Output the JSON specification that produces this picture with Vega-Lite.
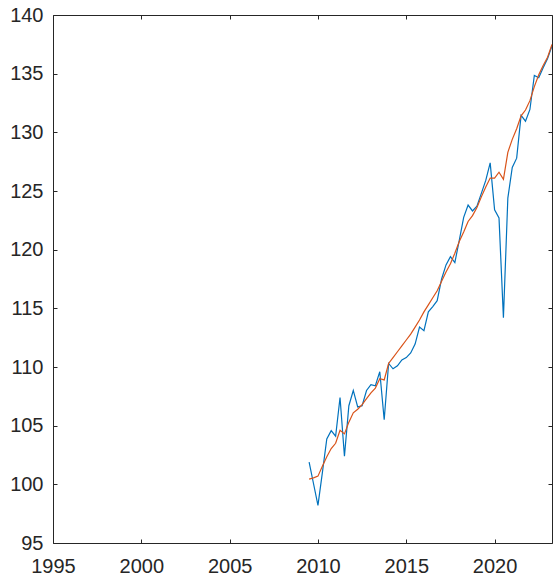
{
  "$schema": "https://vega.github.io/schema/vega-lite/v6.json",
  "width": 499,
  "height": 528,
  "autosize": {"type": "none"},
  "padding": {"left": 53, "top": 15, "right": 1, "bottom": 40},
  "background": "white",
  "config": {
    "view": {"stroke": null},
    "axis": {
      "grid": false,
      "domainColor": "#262626",
      "domainWidth": 1,
      "tickColor": "#262626",
      "tickWidth": 1,
      "tickSize": -4,
      "labelColor": "#262626",
      "labelFont": "Liberation Sans",
      "labelFontSize": 20,
      "labelFlush": false,
      "labelOverlap": false,
      "title": null
    }
  },
  "data": {
    "values": [
      {"t": 2009.5, "a": 101.9, "b": 100.45},
      {"t": 2009.75, "a": 100.05, "b": 100.55},
      {"t": 2010.0, "a": 98.2, "b": 100.7},
      {"t": 2010.25, "a": 101.0, "b": 101.55},
      {"t": 2010.5, "a": 103.86, "b": 102.35},
      {"t": 2010.75, "a": 104.57, "b": 103.05},
      {"t": 2011.0, "a": 104.1, "b": 103.5},
      {"t": 2011.25, "a": 107.4, "b": 104.6},
      {"t": 2011.5, "a": 102.4, "b": 104.3},
      {"t": 2011.75, "a": 106.7, "b": 105.3},
      {"t": 2012.0, "a": 108.0, "b": 106.1},
      {"t": 2012.25, "a": 106.6, "b": 106.4},
      {"t": 2012.5, "a": 106.7, "b": 106.8},
      {"t": 2012.75, "a": 108.0, "b": 107.3},
      {"t": 2013.0, "a": 108.5, "b": 107.8},
      {"t": 2013.25, "a": 108.4, "b": 108.2},
      {"t": 2013.5, "a": 109.6, "b": 109.0},
      {"t": 2013.75, "a": 105.5, "b": 108.9},
      {"t": 2014.0, "a": 110.3, "b": 110.3},
      {"t": 2014.25, "a": 109.85, "b": 110.8},
      {"t": 2014.5, "a": 110.1, "b": 111.3},
      {"t": 2014.75, "a": 110.6, "b": 111.8},
      {"t": 2015.0, "a": 110.8, "b": 112.3},
      {"t": 2015.25, "a": 111.2, "b": 112.8},
      {"t": 2015.5, "a": 111.95, "b": 113.4},
      {"t": 2015.75, "a": 113.4, "b": 114.0},
      {"t": 2016.0, "a": 113.1, "b": 114.7},
      {"t": 2016.25, "a": 114.7, "b": 115.3},
      {"t": 2016.5, "a": 115.15, "b": 115.9},
      {"t": 2016.75, "a": 115.65, "b": 116.5},
      {"t": 2017.0, "a": 117.5, "b": 117.3},
      {"t": 2017.25, "a": 118.7, "b": 118.1},
      {"t": 2017.5, "a": 119.4, "b": 118.8},
      {"t": 2017.75, "a": 118.9, "b": 119.7},
      {"t": 2018.0, "a": 120.8, "b": 120.7},
      {"t": 2018.25, "a": 122.75, "b": 121.5},
      {"t": 2018.5, "a": 123.8, "b": 122.4},
      {"t": 2018.75, "a": 123.3, "b": 122.9},
      {"t": 2019.0, "a": 123.7, "b": 123.6},
      {"t": 2019.25, "a": 124.8, "b": 124.5},
      {"t": 2019.5, "a": 125.9, "b": 125.35},
      {"t": 2019.75, "a": 127.4, "b": 126.1},
      {"t": 2020.0, "a": 123.4, "b": 126.1},
      {"t": 2020.25, "a": 122.7, "b": 126.6},
      {"t": 2020.5, "a": 114.2, "b": 126.0},
      {"t": 2020.75, "a": 124.4, "b": 128.3},
      {"t": 2021.0, "a": 127.0, "b": 129.4},
      {"t": 2021.25, "a": 127.8, "b": 130.3},
      {"t": 2021.5, "a": 131.45, "b": 131.4},
      {"t": 2021.75, "a": 130.95, "b": 131.9},
      {"t": 2022.0, "a": 131.95, "b": 132.7},
      {"t": 2022.25, "a": 134.85, "b": 133.9},
      {"t": 2022.5, "a": 134.65, "b": 134.9},
      {"t": 2022.75, "a": 135.5, "b": 135.7},
      {"t": 2023.0, "a": 136.3, "b": 136.4},
      {"t": 2023.25, "a": 137.35, "b": 137.5}
    ]
  },
  "layer": [
    {
      "mark": {"type": "line", "color": "#0072BD", "strokeWidth": 1.2, "clip": true},
      "encoding": {
        "x": {
          "field": "t", "type": "quantitative",
          "scale": {"domain": [1995, 2023.25], "nice": false, "zero": false},
          "axis": {"orient": "bottom", "values": [1995, 2000, 2005, 2010, 2015, 2020], "format": "d", "labelPadding": 17}
        },
        "y": {
          "field": "a", "type": "quantitative",
          "scale": {"domain": [95, 140], "nice": false, "zero": false},
          "axis": {"orient": "left", "values": [95, 100, 105, 110, 115, 120, 125, 130, 135, 140], "format": "d", "labelPadding": 14}
        }
      }
    },
    {
      "mark": {"type": "line", "color": "#D95319", "strokeWidth": 1.2, "clip": true},
      "encoding": {
        "x": {
          "field": "t", "type": "quantitative",
          "scale": {"domain": [1995, 2023.25], "nice": false, "zero": false},
          "axis": {"orient": "top", "values": [1995, 2000, 2005, 2010, 2015, 2020], "labels": false}
        },
        "y": {
          "field": "b", "type": "quantitative",
          "scale": {"domain": [95, 140], "nice": false, "zero": false},
          "axis": {"orient": "right", "values": [95, 100, 105, 110, 115, 120, 125, 130, 135, 140], "labels": false}
        }
      }
    }
  ],
  "resolve": {"axis": {"x": "independent", "y": "independent"}}
}
